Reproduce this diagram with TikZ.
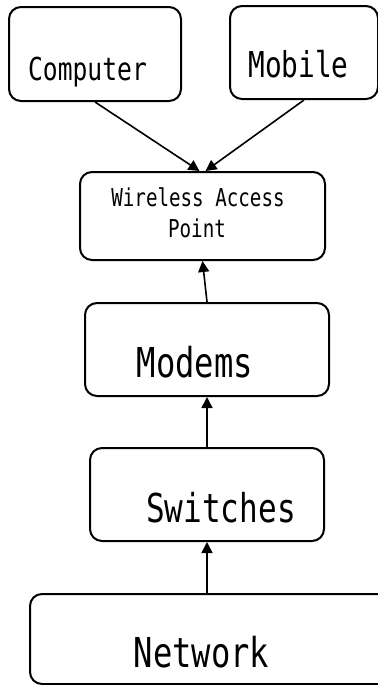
\documentclass[tikz,border=0pt]{standalone}
\usepackage{fontspec}
\newfontfamily\boxfont{DejaVu Sans Mono}[FakeStretch=0.78]
\usetikzlibrary{arrows.meta}

\begin{document}
\begin{tikzpicture}[x=0.5pt,y=-0.5pt]

      \useasboundingbox (0,0) rectangle (378,685);

      \begin{scope}[every node/.style={draw,line width=1pt,rounded corners=6pt,inner sep=0pt}]
        \node[minimum width=86pt,minimum height=47pt]   (comp)     at (95,54)    {};
        \node[minimum width=74pt,minimum height=46.5pt] (mobile)  at (304,52.5) {};
        \node[minimum width=122.5pt,minimum height=44pt] (wap)     at (202.5,216) {};
        \node[minimum width=122pt,minimum height=46.5pt] (modems)  at (207,349.5) {};
        \node[minimum width=117pt,minimum height=46.5pt] (switches) at (207,494.5) {};
        \node[minimum width=180pt,minimum height=45pt] (network) at (210,639) {};
      \end{scope}

      \begin{scope}[every node/.style={anchor=base,inner sep=0pt}]
        \node (compText)     at (87.5,80)  {\boxfont\fontsize{15.8}{18}\selectfont Computer};
        \node (mobileText)   at (298.5,77) {\boxfont\fontsize{17.8}{20}\selectfont Mobile};
        \node (wapText)      at (198,206)  {\boxfont\fontsize{12.3}{14}\selectfont Wireless Access};
        \node (wapText2)     at (197,237)  {\boxfont\fontsize{12.3}{14}\selectfont Point};
        \node (modemsText)   at (195,377)  {\boxfont\fontsize{20.6}{24}\selectfont Modems};
        \node (switchesText) at (221,522)  {\boxfont\fontsize{19.9}{24}\selectfont Switches};
        \node (networkText)  at (201.5,667) {\boxfont\fontsize{20.6}{24}\selectfont Network};
      \end{scope}

      \begin{scope}[every edge/.style={draw,line width=0.8pt,-{Triangle[length=5.5pt,width=5.5pt]}}]
        \path (comp.south)   edge ([xshift=-1.5pt]wap.north);
        \path (mobile.south) edge ([xshift=1.5pt]wap.north);
        \path (modems.north) edge (wap.south);
        \path (switches.north) edge (modems.south);
        \path ([xshift=-1.5pt]network.north) edge (switches.south);
      \end{scope}

    \end{tikzpicture}
\end{document}
